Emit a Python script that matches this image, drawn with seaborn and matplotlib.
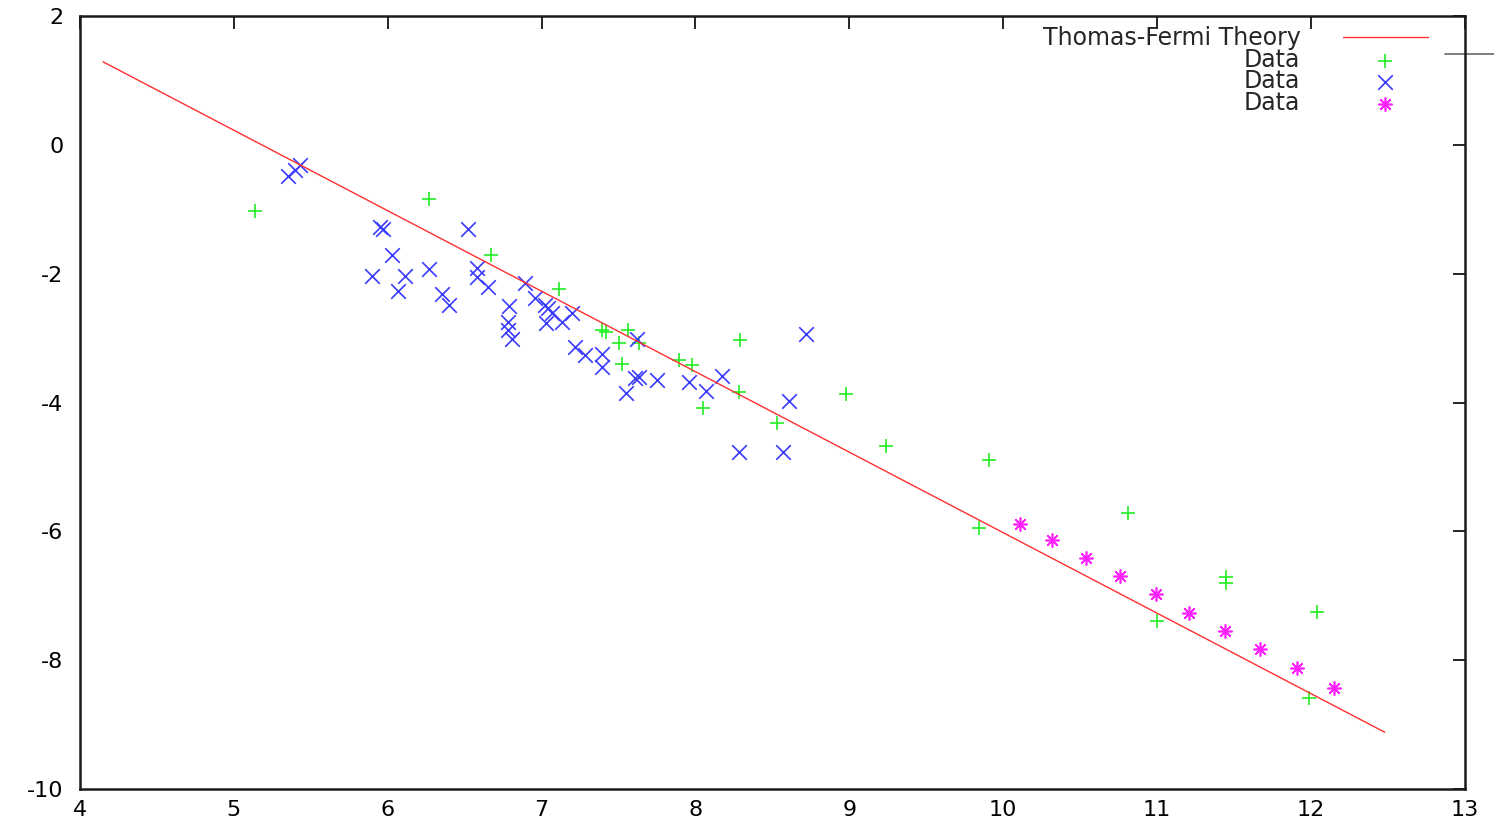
#Thomas-Fermi theory vs data (gnuplot style scatter)
import pandas as pd
import matplotlib
matplotlib.use("Agg")
import matplotlib.pyplot as plt
import matplotlib.transforms as mtransforms
import seaborn as sns

#Theory line endpoints
theory_x = [4.15, 12.48]
theory_y = [1.29, -9.12]

#Data set 1 (green +)
green_x = [5.14, 6.27, 6.67, 7.11, 7.39, 7.42, 7.56, 7.50, 7.63, 7.52, 7.89, 7.98,
           8.29, 8.28, 8.05, 8.53, 8.98, 9.24, 9.91, 9.84, 10.81, 11.00, 11.45,
           11.45, 12.04, 11.99]
green_y = [-1.03, -0.84, -1.71, -2.24, -2.88, -2.90, -2.88, -3.08, -3.08, -3.40,
           -3.34, -3.42, -3.03, -3.84, -4.09, -4.32, -3.87, -4.68, -4.89, -5.95,
           -5.72, -7.39, -6.71, -6.80, -7.25, -8.59]

#Data set 2 (blue x)
blue_x = [5.43, 5.40, 5.35, 5.95, 5.97, 6.52, 6.03, 5.90, 6.11, 6.27, 6.07, 6.35,
          6.40, 6.58, 6.58, 6.65, 6.79, 6.89, 6.78, 6.78, 6.81, 6.96, 7.02, 7.04,
          7.07, 7.03, 7.13, 7.20, 7.22, 7.28, 7.39, 7.39, 7.62, 7.63, 7.61, 7.75,
          7.55, 7.96, 8.07, 8.17, 8.61, 8.72, 8.28, 8.57]
blue_y = [-0.31, -0.39, -0.48, -1.28, -1.31, -1.31, -1.71, -2.04, -2.04, -1.93,
          -2.27, -2.32, -2.49, -1.91, -2.05, -2.21, -2.50, -2.15, -2.75, -2.88,
          -3.02, -2.38, -2.49, -2.53, -2.61, -2.77, -2.75, -2.61, -3.14, -3.26,
          -3.25, -3.45, -3.02, -3.61, -3.62, -3.65, -3.85, -3.68, -3.82, -3.59,
          -3.98, -2.94, -4.77, -4.77]

#Data set 3 (magenta *)
mag_x = [10.11, 10.32, 10.54, 10.76, 10.99, 11.21, 11.44, 11.67, 11.91, 12.15]
mag_y = [-5.89, -6.14, -6.42, -6.70, -6.98, -7.27, -7.55, -7.83, -8.12, -8.43]

theory = pd.DataFrame({"x": theory_x, "y": theory_y})
d1 = pd.DataFrame({"x": green_x, "y": green_y})
d2 = pd.DataFrame({"x": blue_x, "y": blue_y})
d3 = pd.DataFrame({"x": mag_x, "y": mag_y})

sns.set_style("white")
plt.rcParams["font.family"] = ["DejaVu Sans"]
plt.rcParams["axes.unicode_minus"] = False

fig = plt.figure(figsize=(14.94, 8.24), dpi=100)
ax = fig.add_axes([0.0535, 0.0425, 0.927, 0.938])

sns.lineplot(x="x", y="y", data=theory, ax=ax, color="#ff3030", linewidth=1.0,
             label="Thomas-Fermi Theory")
sns.scatterplot(x="x", y="y", data=d1, ax=ax, marker="+", color="#22ee22",
                s=110, linewidth=1.2, label="Data")
sns.scatterplot(x="x", y="y", data=d2, ax=ax, marker="x", color="#3a3aff",
                s=110, linewidth=1.2, label="Data")
sns.scatterplot(x="x", y="y", data=d3, ax=ax, marker=(8, 2, 0), color="#ff22ff",
                s=90, linewidth=1.2, label="Data")

ax.set_xlim(4, 13)
ax.set_ylim(-10, 2)
ax.set_xticks(range(4, 14))
ax.set_yticks(range(-10, 3, 2))
ax.set_xlabel("")
ax.set_ylabel("")
ax.tick_params(direction="in", length=9, width=1.2, top=True, right=True,
               labelsize=16, colors="black")
ax.tick_params(axis="x", pad=8)
ax.tick_params(axis="y", pad=12)
for sp in ax.spines.values():
    sp.set_visible(True)
    sp.set_color("#1a1a1a")
    sp.set_linewidth(1.8)

#stray key tick outside the right border, as in the original output
trans = mtransforms.blended_transform_factory(ax.transAxes, ax.transData)
ax.plot([0.986, 1.03], [1.41, 1.41], transform=trans, color="#666666",
        linewidth=1.2, clip_on=False)

ax.legend(loc="upper right", bbox_to_anchor=(0.9733, 0.987), frameon=False,
          markerfirst=False, fontsize=17, handlelength=3.6, handletextpad=1.8,
          labelspacing=-0.1, borderpad=0, borderaxespad=0)

plt.savefig("out.png", dpi=100)
